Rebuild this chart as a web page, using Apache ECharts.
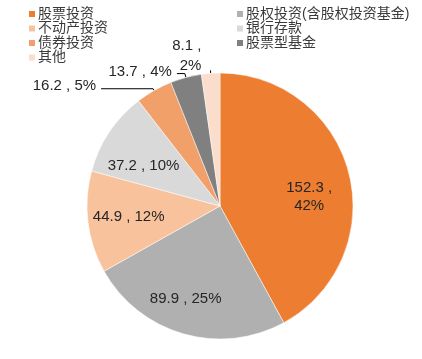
<!DOCTYPE html>
<html><head><meta charset="utf-8">
<script src="https://cdn.jsdelivr.net/npm/echarts@6/dist/echarts.min.js"></script>
<style>html,body{margin:0;padding:0;background:#fff}#c{width:422px;height:359px}</style>
</head><body><div id="c"></div>
<script>
const categories = ['股票投资','股权投资(含股权投资基金)','不动产投资','银行存款','债券投资','股票型基金','其他'];
const values = [152.3, 89.9, 44.9, 37.2, 16.2, 13.7, 8.1];
const percents = ['42%','25%','12%','10%','5%','4%','2%'];
const colors = ['#ED7D31','#B0B0B0','#F8C29C','#D9D9D9','#F2A06A','#808080','#FBDDCB'];
const legendLeft = ['股票投资','不动产投资','债券投资','其他'];
const legendRight = ['股权投资(含股权投资基金)','银行存款','股票型基金'];

const FONT = '"Liberation Sans", Arial, "Noto Sans CJK SC", sans-serif';
const insideSet = [0,1,2,3];
const mainData = categories.map((n,i)=>{
  const d = {name:n, value:values[i], itemStyle:{color:colors[i]}};
  if (insideSet.includes(i)) d.label = {show:false};
  return d;
});
// outside label tweaks for small slices
mainData[4].label = {show:true, position:'outside', formatter: values[4]+' , '+percents[4], offset:[0,-3]};
mainData[4].labelLine = {show:true, length:2, length2:52};
mainData[5].label = {show:true, position:'outside', formatter: values[5]+' , '+percents[5], offset:[0,-2]};
mainData[5].labelLine = {show:true, length:4, length2:8};
mainData[6].label = {show:true, position:'outside', formatter: values[6]+' ,\n'+percents[6], align:'center', offset:[-4,-14], lineHeight:20};
mainData[6].labelLine = {show:true, length:3, length2:0};

const overlayData = categories.map((n,i)=>({
  name:n, value:values[i],
  label: insideSet.includes(i) ? {show:true} : {show:false}
}));
overlayData[0].label = {show:true, formatter: values[0]+' ,\n'+percents[0], offset:[0,14]};
overlayData[1].label = {show:true, offset:[-9,4]};
overlayData[3].label = {show:true, offset:[0,11]};

const chart = echarts.init(document.getElementById('c'), null, {renderer:'canvas'});
chart.setOption({
  animation:false,
  textStyle:{fontFamily:FONT},
  legend:[
    {orient:'vertical', left:22, top:2, data:legendLeft, icon:'rect', itemWidth:8, itemHeight:8, itemGap:0.5,
     selectedMode:false, textStyle:{fontSize:14, color:'#3a3a3a', fontFamily:FONT, padding:[0,0,0,-3]}},
    {orient:'vertical', left:230, top:2, data:legendRight, icon:'rect', itemWidth:8, itemHeight:8, itemGap:0.5,
     selectedMode:false, textStyle:{fontSize:14, color:'#3a3a3a', fontFamily:FONT, padding:[0,0,0,-3]}}
  ],
  series:[
    {type:'pie', center:[220,206], radius:[0,133], startAngle:90, clockwise:true,
     silent:true, avoidLabelOverlap:false,
     itemStyle:{borderColor:'#fff', borderWidth:0.5},
     label:{fontSize:15, color:'#262626', fontFamily:FONT, lineHeight:18,
       formatter:(p)=>values[p.dataIndex]+' , '+percents[p.dataIndex]},
     labelLine:{lineStyle:{color:'#000', width:1}, smooth:false},
     data:mainData},
    {type:'pie', center:[220,206], radius:[0,178], startAngle:90, clockwise:true,
     silent:true, avoidLabelOverlap:false,
     itemStyle:{color:'rgba(0,0,0,0)', borderWidth:0},
     label:{position:'inside', fontSize:15, color:'#262626', fontFamily:FONT, lineHeight:18,
       formatter:(p)=>values[p.dataIndex]+' , '+percents[p.dataIndex]},
     labelLine:{show:false},
     data:overlayData}
  ]
});
</script></body></html>
